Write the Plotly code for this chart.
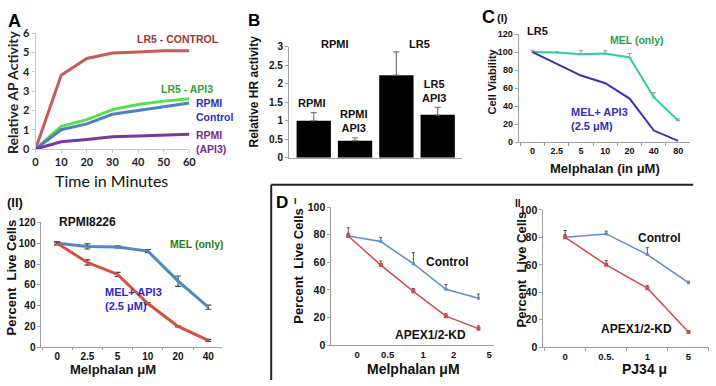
import plotly.graph_objects as go

W, H = 716, 386


def px(x):
    return x / W


def py(y):
    return 1 - y / H


# ---------------- data ----------------
# Panel A: relative AP activity over time
time_min = [0, 10, 20, 30, 40, 50, 60]
lr5_control = [0, 3.82, 4.69, 4.97, 5.02, 5.08, 5.09]
lr5_api3 = [0, 1.18, 1.52, 2.04, 2.3, 2.48, 2.6]
rpmi_control = [0, 1.0, 1.3, 1.8, 2.0, 2.2, 2.38]
rpmi_api3 = [0, 0.38, 0.5, 0.64, 0.68, 0.73, 0.76]

# Panel B: relative HR activity
hr_groups = ["RPMI", "RPMI API3", "LR5", "LR5 API3"]
hr_values = [1.0, 0.46, 2.23, 1.16]
hr_err = [0.22, 0.08, 0.63, 0.2]

# Panel C(I): LR5 cell viability
ci_doses = ["0", "2.5", "5", "10", "20", "40", "80"]
ci_mel_only = [100, 99.5, 97.5, 98.5, 94, 50, 24]
ci_mel_only_err = [2, 1, 4, 3, 4.5, 5, 2]
ci_mel_api3 = [100, 87, 74, 65.5, 48.5, 13, 1.5]

# Panel C(II): RPMI8226 percent live cells
cii_doses = ["0", "2.5", "5", "10", "20", "40"]
cii_mel_only = [100, 97, 96.5, 92.5, 63.5, 38.5]
cii_mel_only_err = [1.5, 2.5, 1, 1.5, 5, 2]
cii_mel_api3 = [100, 81.5, 70, 42, 20, 6.5]
cii_mel_api3_err = [1, 2.5, 2, 1, 0.5, 1]

# Panel D I: melphalan
di_pos = [0, 1, 2, 3, 4]
di_tick_pos = [0.27, 1.21, 2.3, 3.24, 4.33]
di_tick_text = ["0", "0.5", "1", "2", "5"]
di_control = [79, 75, 59, 40.5, 34]
di_control_err = [6, 3, 8, 3.5, 3]
di_apex = [79, 58, 39, 21, 12]
di_apex_err = [2, 3, 2, 2, 2]

# Panel D II: PJ34
dii_doses = ["0", "0.5.", "1", "5"]
dii_control = [80, 82.5, 67.5, 47]
dii_control_err = [5, 2, 5, 1]
dii_apex = [80, 60, 43, 11]
dii_apex_err = [2, 3, 2, 1]

# ---------------- figure ----------------
fig = go.Figure()

ARIAL = "Liberation Sans, Arial, sans-serif"
CALI = "Lato, Carlito, sans-serif"

# Panel A
for ys, col in [(lr5_control, "#c65c57"), (lr5_api3, "#55e04f"),
                (rpmi_control, "#4f80c2"), (rpmi_api3, "#7a36a0")]:
    fig.add_trace(go.Scatter(x=time_min, y=ys, mode="lines",
                             line=dict(color=col, width=3),
                             xaxis="x", yaxis="y", hoverinfo="skip"))

# Panel B
fig.add_trace(go.Bar(x=hr_groups, y=hr_values, marker=dict(color="black", line=dict(width=0)),
                     width=0.83,
                     error_y=dict(type="data", array=hr_err, arrayminus=[0] * 4, symmetric=False,
                                  color="#777", thickness=1.2, width=3),
                     xaxis="x2", yaxis="y2", hoverinfo="skip"))

# Panel C(I)
fig.add_trace(go.Scatter(x=ci_doses, y=ci_mel_only, mode="lines",
                         line=dict(color="#2fcb9c", width=2),
                         error_y=dict(type="data", array=ci_mel_only_err, arrayminus=[0] * 7,
                                      symmetric=False, color="#999", thickness=1, width=2),
                         xaxis="x3", yaxis="y3", hoverinfo="skip"))
fig.add_trace(go.Scatter(x=ci_doses, y=ci_mel_api3, mode="lines",
                         line=dict(color="#3535b0", width=2),
                         xaxis="x3", yaxis="y3", hoverinfo="skip"))

# Panel C(II)
fig.add_trace(go.Scatter(x=cii_doses, y=cii_mel_only, mode="lines",
                         line=dict(color="#4d88cc", width=3),
                         error_y=dict(type="data", array=cii_mel_only_err, color="#444",
                                      thickness=1.2, width=3),
                         xaxis="x4", yaxis="y4", hoverinfo="skip"))
fig.add_trace(go.Scatter(x=cii_doses, y=cii_mel_api3, mode="lines",
                         line=dict(color="#d1523f", width=3),
                         error_y=dict(type="data", array=cii_mel_api3_err, color="#444",
                                      thickness=1.2, width=3),
                         xaxis="x4", yaxis="y4", hoverinfo="skip"))

# Panel D I
fig.add_trace(go.Scatter(x=di_pos, y=di_control, mode="lines+markers",
                         line=dict(color="#5b8ed6", width=1.5),
                         marker=dict(symbol="square", size=3, color="#5b8ed6"),
                         error_y=dict(type="data", array=di_control_err, arrayminus=[0] * 5,
                                      symmetric=False, color="#555", thickness=1, width=1.5),
                         xaxis="x5", yaxis="y5", hoverinfo="skip"))
fig.add_trace(go.Scatter(x=di_pos, y=di_apex, mode="lines+markers",
                         line=dict(color="#d24a4a", width=1.5),
                         marker=dict(symbol="square", size=4, color="#d24a4a"),
                         error_y=dict(type="data", array=di_apex_err, arrayminus=[0] * 5,
                                      symmetric=False, color="#555", thickness=1, width=1.5),
                         xaxis="x5", yaxis="y5", hoverinfo="skip"))

# Panel D II
fig.add_trace(go.Scatter(x=dii_doses, y=dii_control, mode="lines+markers",
                         line=dict(color="#5b8ed6", width=1.5),
                         marker=dict(symbol="square", size=3, color="#5b8ed6"),
                         error_y=dict(type="data", array=dii_control_err, arrayminus=[0] * 4,
                                      symmetric=False, color="#555", thickness=1, width=1.5),
                         xaxis="x6", yaxis="y6", hoverinfo="skip"))
fig.add_trace(go.Scatter(x=dii_doses, y=dii_apex, mode="lines+markers",
                         line=dict(color="#d24a4a", width=1.5),
                         marker=dict(symbol="square", size=4, color="#d24a4a"),
                         error_y=dict(type="data", array=dii_apex_err, arrayminus=[0] * 4,
                                      symmetric=False, color="#555", thickness=1, width=1.5),
                         xaxis="x6", yaxis="y6", hoverinfo="skip"))


def ax(domain, **kw):
    d = dict(domain=domain, showgrid=False, zeroline=False, showline=True,
             linecolor="#a0a0a0", linewidth=1, ticks="outside", ticklen=3,
             tickcolor="#a0a0a0", fixedrange=True)
    d.update(kw)
    return d


tf_a = dict(family=CALI, size=11, color="#222", weight="bold")
tf_b = dict(family=ARIAL, size=10, color="#111", weight="bold")

fig.update_layout(
    width=W, height=H, margin=dict(l=0, r=0, t=0, b=0),
    paper_bgcolor="white", plot_bgcolor="white", showlegend=False,
    xaxis=ax([px(33), px(189)], anchor="y", range=[0, 60], tickvals=[0, 10, 20, 30, 40, 50, 60],
             tickfont=tf_a, linecolor="#c8c8c8", tickcolor="#c8c8c8"),
    yaxis=ax([py(147), py(27)], anchor="x", range=[0, 6], dtick=1, tickfont=tf_a,
             linecolor="#c8c8c8", tickcolor="#c8c8c8"),
    xaxis2=ax([px(290), px(466)], anchor="y2", type="category", range=[-0.6, 3.6],
              showticklabels=False, ticks=""),
    yaxis2=ax([py(156), py(41)], anchor="x2", range=[0, 3], dtick=0.5, tickfont=tf_b),
    xaxis3=ax([px(523), px(697)], anchor="y3", type="category", range=[-0.57, 6.5],
              tickson="boundaries", tickfont=dict(family=ARIAL, size=9, color="#111", weight="bold")),
    yaxis3=ax([py(140), py(28)], anchor="x3", range=[0, 120], dtick=20,
              tickfont=dict(family=ARIAL, size=9, color="#111", weight="bold")),
    xaxis4=ax([px(39), px(222)], anchor="y4", type="category", range=[-0.52, 5.45],
              tickson="boundaries", ticklen=2, tickfont=tf_b),
    yaxis4=ax([py(352), py(223)], anchor="x4", range=[0, 120], dtick=20, tickfont=tf_b),
    xaxis5=ax([px(333), px(498)], anchor="y5", range=[-0.52, 4.48], tickvals=di_tick_pos,
              ticktext=di_tick_text, ticks="", tickfont=dict(family=ARIAL, size=9.5, color="#111", weight="bold")),
    yaxis5=ax([py(350), py(207)], anchor="x5", range=[0, 100], dtick=20,
              tickfont=dict(family=ARIAL, size=10.5, color="#111", weight="bold")),
    xaxis6=ax([px(548), px(716)], anchor="y6", type="category", range=[-0.53, 3.5],
              tickson="boundaries", tickfont=dict(family=ARIAL, size=9.5, color="#111", weight="bold")),
    yaxis6=ax([py(352), py(210)], anchor="x6", range=[0, 100], dtick=20,
              tickfont=dict(family=ARIAL, size=10.5, color="#111", weight="bold")),
)


def note(text, x, y, size=11, color="#111", family=ARIAL, angle=0, align="center",
         xanchor="center", bold=True):
    fig.add_annotation(text=(f"<b>{text}</b>" if bold else text), x=px(x), y=py(y),
                       xref="paper", yref="paper", showarrow=False,
                       xanchor=xanchor, yanchor="middle", textangle=angle, align=align,
                       font=dict(family=family, size=size, color=color), borderpad=0)


# Panel A text
note("A", 12, 14, size=18, color="#000")
note("Relative AP Activity", 9, 88, size=14, family=CALI, angle=-90, color="#222")
note("Time in Minutes", 110, 180, size=16, family=CALI, color="#111", bold=False)
note("LR5 - CONTROL", 177, 33, size=10.5, color="#a03535")
note("LR5 - API3", 187, 85, size=10.5, color="#33a033")
note("RPMI<br>Control", 195, 107, size=10.5, color="#2c2cbf", xanchor="left", align="left")
note("RPMI<br>(API3)", 195, 140, size=10.5, color="#7a2a8c", xanchor="left", align="left")

# Panel B text
note("B", 255, 14, size=17, color="#000")
note("Relative HR activity", 255, 87, size=12, angle=-90)
note("RPMI", 337, 38, size=11)
note("LR5", 422, 38, size=11)
note("RPMI", 313, 99, size=11)
note("RPMI<br>API3", 356, 118, size=11)
note("LR5<br>API3", 437, 87, size=11)

# Panel C(I) text
note("C", 492, 10, size=18, color="#000")
note("(I)", 507, 11, size=11)
note("LR5", 542, 25, size=11)
note("MEL (only)", 642, 34, size=10.5, color="#2a9a50")
note("MEL+ API3<br>(2.5 μM)", 575, 116, size=11, color="#3030c0", xanchor="left", align="left")
note("Melphalan (in μM)", 611, 167, size=13)
note("Cell Viability", 496, 77, size=11, angle=-90)

# Panel C(II) text
note("(II)", 12, 202, size=13)
note("RPMI8226", 86, 223, size=12)
note("MEL (only)", 196, 245, size=10.5, color="#1e7e1e")
note("MEL+ API3<br>(2.5 μM)", 102, 302, size=11, color="#2a2acc", xanchor="left", align="left")
note("Melphalan μM", 112, 375, size=13)
note("Percent  Live Cells", 9, 280, size=13, angle=-90)

# Panel D I text
note("D", 283, 202, size=17, color="#000")
note("I", 297, 201, size=9)
note("Percent  Live Cells", 300, 268, size=13, angle=-90)
note("Melphalan μM", 416, 375, size=14)
note("Control", 451, 264, size=12)
note("APEX1/2-KD", 434, 339, size=12)

# Panel D II text
note("II", 522, 203, size=10)
note("Percent  Live Cells", 526, 272, size=13, angle=-90)
note("PJ34 μ", 651, 375, size=14)
note("Control", 666, 239, size=12)
note("APEX1/2-KD", 642, 333, size=12)

# separator lines
fig.add_shape(type="line", xref="paper", yref="paper", x0=px(272), x1=px(700), y0=py(184), y1=py(184),
              line=dict(color="#222", width=2))
fig.add_shape(type="line", xref="paper", yref="paper", x0=px(272), x1=px(272), y0=py(184), y1=0,
              line=dict(color="#222", width=2))

fig.write_html("out.html", config={"displayModeBar": False},
               post_script="document.body.style.margin='0';document.body.style.overflow='hidden';")
